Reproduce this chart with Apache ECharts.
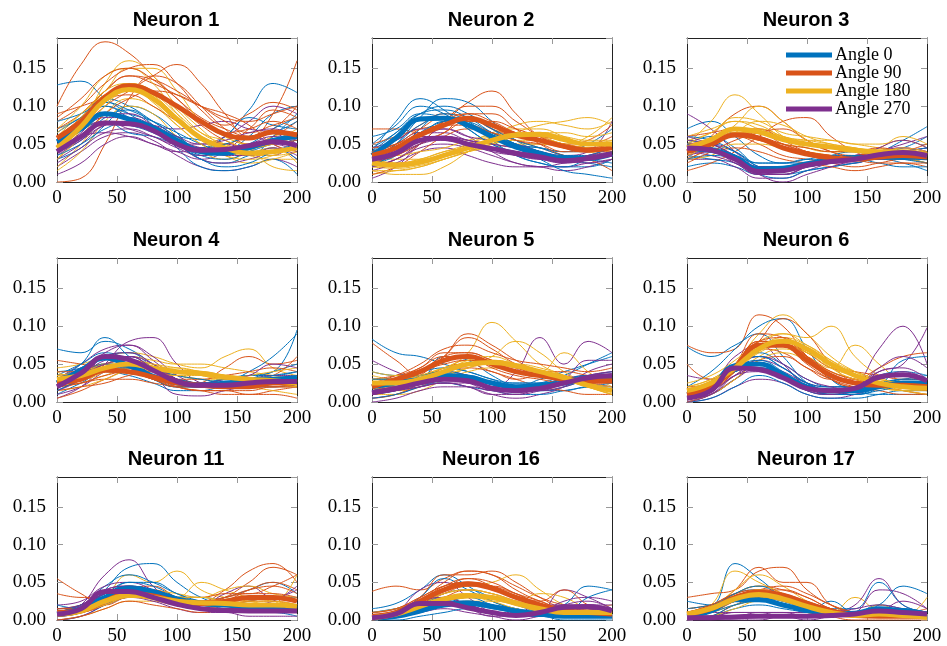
<!DOCTYPE html>
<html>
<head>
<meta charset="utf-8">
<title>Neuron tuning curves</title>
<script src="https://cdn.jsdelivr.net/npm/echarts@6/dist/echarts.min.js"></script>
<style>
  html, body { margin: 0; padding: 0; background: #fff; }
  #chart { width: 947px; height: 646px; }
</style>
</head>
<body>
<div id="chart"></div>
<script>
// time bins (x values) shared by every curve
const timePoints = [0, 20, 40, 60, 80, 100, 120, 140, 160, 180, 200];
const angleNames = ['Angle 0', 'Angle 90', 'Angle 180', 'Angle 270'];
const angleColors = ['#0072BD', '#D95319', '#EDB120', '#7E2F8E'];
const neuronTitles = ['Neuron 1', 'Neuron 2', 'Neuron 3', 'Neuron 4', 'Neuron 5', 'Neuron 6', 'Neuron 11', 'Neuron 16', 'Neuron 17'];

// ---- Neuron 1
const n1Mean = [
  [0.053,0.07,0.09,0.083,0.072,0.055,0.04,0.038,0.045,0.055,0.06],
  [0.058,0.08,0.112,0.127,0.118,0.1,0.08,0.063,0.058,0.066,0.062],
  [0.045,0.073,0.108,0.122,0.11,0.083,0.058,0.045,0.038,0.04,0.045],
  [0.04,0.06,0.078,0.077,0.068,0.05,0.042,0.043,0.048,0.053,0.048]
];
const n1a0 = [
  [0.128,0.133,0.11,0.09,0.07,0.05,0.035,0.04,0.06,0.09,0.1],
  [0.07,0.085,0.11,0.1,0.08,0.06,0.045,0.06,0.095,0.13,0.118],
  [0.04,0.055,0.085,0.095,0.075,0.045,0.02,0.015,0.02,0.03,0.01],
  [0.06,0.07,0.08,0.065,0.06,0.05,0.045,0.06,0.085,0.075,0.07],
  [0.03,0.045,0.075,0.1,0.09,0.065,0.03,0.025,0.035,0.045,0.03],
  [0.065,0.085,0.1,0.085,0.07,0.06,0.055,0.045,0.035,0.06,0.09],
  [0.055,0.075,0.1,0.09,0.08,0.065,0.05,0.04,0.05,0.07,0.085],
  [0.045,0.06,0.08,0.075,0.065,0.05,0.035,0.03,0.04,0.05,0.055],
  [0.08,0.09,0.105,0.095,0.08,0.06,0.045,0.05,0.06,0.065,0.08],
  [0.035,0.05,0.07,0.08,0.07,0.05,0.03,0.02,0.025,0.04,0.05]
];
const n1a90 = [
  [0.1,0.155,0.185,0.17,0.14,0.11,0.085,0.07,0.06,0.09,0.16],
  [0.0,0.005,0.05,0.11,0.14,0.13,0.1,0.07,0.05,0.06,0.08],
  [0.08,0.1,0.13,0.15,0.155,0.13,0.095,0.075,0.09,0.105,0.095],
  [0.06,0.085,0.12,0.14,0.13,0.115,0.1,0.09,0.075,0.05,0.04],
  [0.045,0.07,0.1,0.12,0.14,0.155,0.13,0.09,0.06,0.07,0.1],
  [0.09,0.1,0.11,0.115,0.1,0.08,0.06,0.05,0.07,0.095,0.085],
  [0.07,0.09,0.12,0.14,0.135,0.12,0.1,0.08,0.065,0.075,0.085],
  [0.05,0.075,0.105,0.125,0.12,0.1,0.075,0.055,0.045,0.05,0.055],
  [0.085,0.11,0.14,0.15,0.135,0.11,0.08,0.065,0.07,0.08,0.07],
  [0.04,0.06,0.09,0.11,0.12,0.115,0.1,0.085,0.08,0.09,0.1]
];
const n1a180 = [
  [0.03,0.07,0.13,0.16,0.14,0.1,0.07,0.045,0.035,0.03,0.03],
  [0.06,0.09,0.12,0.15,0.15,0.12,0.08,0.06,0.05,0.055,0.07],
  [0.02,0.05,0.09,0.11,0.1,0.075,0.05,0.035,0.025,0.03,0.04],
  [0.05,0.08,0.11,0.13,0.12,0.1,0.08,0.06,0.045,0.02,0.015],
  [0.015,0.04,0.08,0.1,0.09,0.06,0.04,0.03,0.04,0.06,0.065],
  [0.07,0.1,0.14,0.15,0.13,0.09,0.06,0.05,0.04,0.045,0.025],
  [0.04,0.07,0.11,0.13,0.12,0.095,0.065,0.05,0.04,0.04,0.045],
  [0.055,0.085,0.12,0.13,0.115,0.085,0.055,0.04,0.035,0.035,0.04],
  [0.03,0.06,0.1,0.12,0.115,0.09,0.065,0.055,0.045,0.05,0.06],
  [0.065,0.09,0.115,0.125,0.105,0.075,0.05,0.035,0.03,0.035,0.05]
];
const n1a270 = [
  [0.02,0.04,0.06,0.065,0.055,0.035,0.02,0.015,0.02,0.03,0.02],
  [0.06,0.08,0.09,0.085,0.075,0.07,0.075,0.08,0.07,0.065,0.05],
  [0.01,0.025,0.05,0.06,0.05,0.04,0.03,0.04,0.06,0.05,0.03],
  [0.05,0.07,0.08,0.07,0.06,0.05,0.05,0.06,0.08,0.1,0.09],
  [0.03,0.05,0.075,0.08,0.07,0.05,0.03,0.025,0.03,0.04,0.045],
  [0.045,0.06,0.065,0.06,0.05,0.04,0.04,0.05,0.04,0.035,0.06],
  [0.035,0.055,0.075,0.08,0.07,0.055,0.045,0.045,0.05,0.06,0.055],
  [0.025,0.045,0.065,0.07,0.06,0.045,0.035,0.04,0.045,0.05,0.04],
  [0.055,0.07,0.085,0.085,0.075,0.06,0.05,0.055,0.065,0.07,0.06],
  [0.04,0.065,0.09,0.09,0.075,0.055,0.045,0.035,0.035,0.045,0.035]
];

// ---- Neuron 2
const n2Mean = [
  [0.035,0.058,0.083,0.084,0.075,0.06,0.046,0.038,0.031,0.031,0.037],
  [0.035,0.045,0.062,0.075,0.084,0.075,0.062,0.055,0.047,0.042,0.045],
  [0.025,0.022,0.026,0.035,0.045,0.055,0.062,0.063,0.056,0.05,0.05],
  [0.03,0.038,0.055,0.058,0.05,0.044,0.038,0.033,0.028,0.031,0.037]
];
const n2a0 = [
  [0.04,0.08,0.11,0.095,0.07,0.05,0.035,0.025,0.02,0.02,0.03],
  [0.03,0.05,0.085,0.11,0.105,0.08,0.055,0.04,0.03,0.025,0.02],
  [0.06,0.07,0.09,0.085,0.075,0.065,0.05,0.045,0.04,0.05,0.07],
  [0.02,0.04,0.06,0.08,0.075,0.06,0.045,0.03,0.015,0.01,0.005],
  [0.045,0.065,0.09,0.1,0.09,0.07,0.05,0.045,0.04,0.04,0.05],
  [0.025,0.035,0.07,0.09,0.08,0.055,0.035,0.025,0.02,0.03,0.04],
  [0.04,0.065,0.09,0.095,0.085,0.065,0.05,0.04,0.035,0.035,0.04],
  [0.03,0.05,0.075,0.085,0.08,0.065,0.05,0.04,0.03,0.03,0.035],
  [0.05,0.075,0.1,0.09,0.07,0.05,0.04,0.035,0.03,0.035,0.045],
  [0.02,0.04,0.065,0.08,0.085,0.07,0.055,0.045,0.035,0.03,0.025]
];
const n2a90 = [
  [0.07,0.07,0.065,0.08,0.105,0.12,0.09,0.06,0.05,0.045,0.05],
  [0.02,0.03,0.05,0.08,0.1,0.1,0.08,0.06,0.045,0.04,0.04],
  [0.04,0.055,0.075,0.09,0.085,0.07,0.055,0.05,0.05,0.055,0.075],
  [0.01,0.02,0.04,0.06,0.07,0.065,0.055,0.045,0.035,0.03,0.015],
  [0.05,0.06,0.07,0.075,0.08,0.075,0.065,0.06,0.055,0.05,0.06],
  [0.03,0.04,0.055,0.065,0.09,0.09,0.07,0.05,0.035,0.03,0.04],
  [0.03,0.04,0.06,0.08,0.09,0.08,0.065,0.055,0.045,0.04,0.045],
  [0.04,0.05,0.07,0.085,0.085,0.07,0.06,0.055,0.05,0.045,0.05],
  [0.025,0.035,0.05,0.065,0.08,0.08,0.07,0.06,0.05,0.045,0.04],
  [0.045,0.05,0.065,0.075,0.075,0.065,0.055,0.05,0.04,0.04,0.05]
];
const n2a180 = [
  [0.015,0.01,0.01,0.02,0.04,0.06,0.075,0.08,0.075,0.07,0.08],
  [0.03,0.025,0.03,0.04,0.05,0.065,0.07,0.07,0.06,0.05,0.05],
  [0.01,0.015,0.02,0.03,0.04,0.05,0.055,0.055,0.05,0.04,0.035],
  [0.035,0.03,0.03,0.035,0.04,0.05,0.065,0.075,0.08,0.085,0.075],
  [0.02,0.018,0.022,0.03,0.04,0.045,0.05,0.05,0.045,0.04,0.045],
  [0.04,0.035,0.04,0.045,0.055,0.06,0.06,0.055,0.05,0.06,0.085],
  [0.02,0.02,0.025,0.035,0.05,0.06,0.065,0.065,0.06,0.055,0.055],
  [0.03,0.025,0.03,0.04,0.045,0.05,0.06,0.065,0.065,0.06,0.065],
  [0.015,0.015,0.02,0.03,0.04,0.055,0.065,0.06,0.05,0.045,0.04],
  [0.025,0.02,0.025,0.035,0.045,0.055,0.06,0.065,0.055,0.05,0.055]
];
const n2a270 = [
  [0.005,0.02,0.05,0.07,0.06,0.04,0.025,0.02,0.015,0.02,0.03],
  [0.04,0.05,0.065,0.065,0.055,0.05,0.045,0.04,0.035,0.04,0.08],
  [0.02,0.03,0.045,0.05,0.045,0.035,0.025,0.02,0.02,0.025,0.03],
  [0.035,0.045,0.06,0.055,0.05,0.045,0.04,0.035,0.03,0.03,0.035],
  [0.015,0.025,0.04,0.045,0.035,0.025,0.02,0.02,0.025,0.03,0.04],
  [0.045,0.055,0.07,0.07,0.06,0.055,0.05,0.04,0.03,0.035,0.045],
  [0.03,0.04,0.055,0.06,0.055,0.045,0.04,0.035,0.03,0.03,0.035],
  [0.025,0.035,0.05,0.055,0.05,0.045,0.035,0.03,0.025,0.03,0.04],
  [0.035,0.045,0.06,0.06,0.05,0.04,0.035,0.03,0.03,0.035,0.04],
  [0.02,0.03,0.05,0.06,0.055,0.05,0.045,0.04,0.03,0.025,0.03]
];

// ---- Neuron 3
const n3Mean = [
  [0.044,0.042,0.033,0.017,0.018,0.024,0.028,0.031,0.033,0.033,0.032],
  [0.04,0.05,0.062,0.058,0.045,0.037,0.032,0.03,0.033,0.035,0.033],
  [0.045,0.056,0.07,0.066,0.056,0.05,0.046,0.042,0.04,0.04,0.036],
  [0.045,0.042,0.03,0.014,0.015,0.022,0.027,0.03,0.036,0.039,0.035]
];
const n3a0 = [
  [0.07,0.08,0.06,0.035,0.025,0.025,0.03,0.035,0.04,0.055,0.073],
  [0.02,0.025,0.02,0.01,0.01,0.015,0.02,0.025,0.03,0.025,0.015],
  [0.05,0.06,0.045,0.02,0.015,0.025,0.035,0.04,0.04,0.045,0.06],
  [0.035,0.03,0.025,0.01,0.005,0.015,0.02,0.025,0.03,0.03,0.025],
  [0.055,0.05,0.04,0.025,0.025,0.03,0.03,0.03,0.035,0.04,0.045],
  [0.04,0.04,0.03,0.015,0.02,0.025,0.03,0.03,0.025,0.02,0.02],
  [0.045,0.045,0.035,0.02,0.02,0.025,0.03,0.03,0.035,0.035,0.03],
  [0.06,0.055,0.04,0.02,0.015,0.02,0.025,0.03,0.035,0.04,0.045],
  [0.03,0.035,0.03,0.015,0.015,0.02,0.025,0.03,0.035,0.03,0.025],
  [0.05,0.045,0.035,0.025,0.025,0.03,0.035,0.035,0.03,0.03,0.035]
];
const n3a90 = [
  [0.03,0.06,0.09,0.1,0.08,0.055,0.04,0.035,0.035,0.04,0.04],
  [0.015,0.025,0.04,0.06,0.08,0.085,0.06,0.04,0.03,0.03,0.035],
  [0.05,0.055,0.06,0.05,0.035,0.03,0.025,0.02,0.025,0.03,0.025],
  [0.035,0.05,0.07,0.07,0.055,0.04,0.035,0.03,0.035,0.04,0.05],
  [0.045,0.04,0.045,0.04,0.03,0.025,0.02,0.015,0.02,0.025,0.02],
  [0.06,0.065,0.07,0.06,0.05,0.045,0.04,0.04,0.045,0.04,0.035],
  [0.04,0.05,0.06,0.055,0.045,0.035,0.03,0.03,0.035,0.035,0.03],
  [0.03,0.045,0.065,0.065,0.05,0.04,0.035,0.03,0.03,0.03,0.03],
  [0.045,0.055,0.065,0.06,0.05,0.04,0.035,0.035,0.04,0.04,0.035],
  [0.025,0.04,0.055,0.065,0.07,0.055,0.04,0.03,0.025,0.025,0.025]
];
const n3a180 = [
  [0.05,0.08,0.115,0.09,0.06,0.045,0.04,0.04,0.04,0.04,0.035],
  [0.03,0.045,0.065,0.08,0.075,0.06,0.05,0.045,0.04,0.035,0.03],
  [0.06,0.07,0.08,0.07,0.06,0.055,0.055,0.05,0.05,0.055,0.045],
  [0.04,0.05,0.06,0.055,0.05,0.045,0.04,0.04,0.045,0.06,0.05],
  [0.055,0.065,0.085,0.08,0.065,0.06,0.055,0.05,0.045,0.04,0.04],
  [0.03,0.035,0.05,0.05,0.045,0.04,0.035,0.03,0.03,0.03,0.025],
  [0.045,0.055,0.07,0.07,0.06,0.05,0.045,0.04,0.04,0.04,0.035],
  [0.05,0.065,0.08,0.075,0.06,0.055,0.05,0.045,0.04,0.04,0.04],
  [0.04,0.05,0.065,0.065,0.055,0.05,0.045,0.04,0.035,0.035,0.03],
  [0.035,0.05,0.075,0.1,0.08,0.055,0.045,0.04,0.04,0.045,0.04]
];
const n3a270 = [
  [0.09,0.07,0.04,0.015,0.01,0.02,0.03,0.035,0.04,0.045,0.04],
  [0.03,0.03,0.02,0.005,0.005,0.015,0.025,0.03,0.035,0.04,0.035],
  [0.05,0.05,0.04,0.02,0.02,0.025,0.025,0.025,0.04,0.05,0.06],
  [0.04,0.035,0.025,0.01,0.01,0.02,0.03,0.035,0.04,0.035,0.03],
  [0.055,0.05,0.035,0.02,0.02,0.025,0.025,0.03,0.035,0.04,0.045],
  [0.035,0.04,0.03,0.01,0.0,0.01,0.02,0.03,0.045,0.055,0.045],
  [0.045,0.04,0.03,0.015,0.015,0.02,0.025,0.03,0.035,0.04,0.035],
  [0.05,0.045,0.035,0.02,0.02,0.025,0.03,0.03,0.035,0.035,0.03],
  [0.04,0.04,0.025,0.01,0.01,0.02,0.025,0.03,0.04,0.045,0.04],
  [0.06,0.05,0.035,0.015,0.015,0.025,0.03,0.03,0.03,0.035,0.03]
];

// ---- Neuron 4
const n4Mean = [
  [0.025,0.042,0.058,0.048,0.034,0.025,0.022,0.025,0.028,0.03,0.032],
  [0.025,0.03,0.042,0.04,0.033,0.025,0.022,0.02,0.02,0.025,0.025],
  [0.03,0.035,0.045,0.05,0.045,0.04,0.038,0.033,0.03,0.028,0.025],
  [0.02,0.038,0.06,0.056,0.042,0.027,0.022,0.022,0.025,0.027,0.027]
];
const n4a0 = [
  [0.07,0.065,0.08,0.07,0.05,0.03,0.025,0.03,0.035,0.04,0.095],
  [0.02,0.035,0.06,0.065,0.045,0.025,0.02,0.025,0.04,0.06,0.09],
  [0.01,0.025,0.04,0.035,0.025,0.015,0.015,0.02,0.02,0.025,0.02],
  [0.035,0.05,0.065,0.055,0.04,0.03,0.025,0.03,0.035,0.035,0.04],
  [0.03,0.04,0.05,0.045,0.03,0.02,0.02,0.02,0.03,0.04,0.05],
  [0.04,0.045,0.06,0.06,0.045,0.035,0.03,0.025,0.02,0.02,0.025],
  [0.025,0.04,0.06,0.055,0.035,0.025,0.025,0.03,0.03,0.03,0.03],
  [0.02,0.035,0.05,0.045,0.03,0.02,0.02,0.025,0.025,0.03,0.035],
  [0.03,0.05,0.085,0.06,0.035,0.03,0.025,0.025,0.03,0.035,0.04],
  [0.015,0.03,0.045,0.045,0.035,0.025,0.02,0.02,0.025,0.025,0.03]
];
const n4a90 = [
  [0.055,0.05,0.045,0.04,0.03,0.02,0.025,0.045,0.06,0.05,0.055],
  [0.005,0.015,0.03,0.04,0.035,0.02,0.015,0.01,0.01,0.015,0.02],
  [0.03,0.035,0.05,0.055,0.04,0.03,0.02,0.02,0.025,0.03,0.03],
  [0.02,0.025,0.03,0.03,0.025,0.02,0.015,0.015,0.01,0.01,0.005],
  [0.035,0.04,0.05,0.045,0.035,0.03,0.03,0.035,0.04,0.045,0.04],
  [0.015,0.02,0.025,0.035,0.04,0.03,0.02,0.025,0.03,0.035,0.06],
  [0.025,0.03,0.04,0.045,0.035,0.025,0.02,0.02,0.02,0.025,0.025],
  [0.03,0.035,0.045,0.045,0.035,0.03,0.025,0.025,0.025,0.03,0.03],
  [0.02,0.025,0.035,0.04,0.03,0.02,0.015,0.015,0.015,0.02,0.02],
  [0.04,0.04,0.045,0.04,0.03,0.02,0.02,0.02,0.02,0.02,0.025]
];
const n4a180 = [
  [0.045,0.05,0.06,0.065,0.06,0.05,0.045,0.06,0.07,0.045,0.035],
  [0.02,0.025,0.035,0.045,0.04,0.035,0.03,0.025,0.02,0.015,0.01],
  [0.03,0.04,0.05,0.06,0.055,0.05,0.05,0.045,0.04,0.035,0.03],
  [0.015,0.02,0.03,0.04,0.04,0.035,0.03,0.03,0.025,0.02,0.02],
  [0.035,0.04,0.05,0.05,0.045,0.045,0.04,0.035,0.03,0.03,0.035],
  [0.04,0.03,0.04,0.055,0.05,0.04,0.035,0.03,0.035,0.04,0.045],
  [0.03,0.035,0.045,0.05,0.045,0.04,0.04,0.035,0.03,0.03,0.025],
  [0.025,0.03,0.04,0.045,0.045,0.04,0.035,0.03,0.03,0.025,0.02],
  [0.035,0.04,0.05,0.055,0.05,0.045,0.04,0.035,0.03,0.03,0.03],
  [0.03,0.035,0.045,0.05,0.04,0.035,0.035,0.035,0.03,0.025,0.02]
];
const n4a270 = [
  [0.005,0.02,0.05,0.08,0.085,0.05,0.025,0.02,0.02,0.025,0.02],
  [0.03,0.05,0.07,0.075,0.055,0.03,0.02,0.02,0.025,0.03,0.03],
  [0.01,0.02,0.04,0.05,0.035,0.01,0.008,0.015,0.02,0.02,0.02],
  [0.025,0.04,0.065,0.075,0.06,0.035,0.025,0.025,0.03,0.035,0.035],
  [0.015,0.03,0.05,0.055,0.045,0.03,0.02,0.02,0.02,0.025,0.025],
  [0.03,0.045,0.06,0.06,0.045,0.03,0.025,0.03,0.035,0.05,0.045],
  [0.02,0.035,0.055,0.06,0.05,0.03,0.02,0.02,0.025,0.025,0.025],
  [0.015,0.03,0.06,0.065,0.05,0.03,0.02,0.02,0.02,0.025,0.03],
  [0.025,0.04,0.06,0.06,0.045,0.03,0.025,0.025,0.03,0.03,0.03],
  [0.02,0.035,0.05,0.055,0.04,0.025,0.02,0.02,0.025,0.03,0.025]
];

// ---- Neuron 5
const n5Mean = [
  [0.02,0.025,0.03,0.035,0.033,0.025,0.02,0.022,0.025,0.03,0.032],
  [0.02,0.03,0.04,0.055,0.06,0.05,0.04,0.035,0.03,0.028,0.028],
  [0.025,0.025,0.03,0.04,0.05,0.052,0.048,0.04,0.032,0.022,0.015],
  [0.012,0.018,0.025,0.03,0.028,0.018,0.015,0.018,0.025,0.032,0.035]
];
const n5a0 = [
  [0.083,0.065,0.06,0.05,0.04,0.03,0.02,0.025,0.035,0.05,0.065],
  [0.01,0.015,0.025,0.06,0.055,0.035,0.02,0.015,0.015,0.02,0.02],
  [0.03,0.03,0.035,0.04,0.035,0.025,0.02,0.03,0.04,0.05,0.06],
  [0.015,0.02,0.025,0.025,0.02,0.015,0.01,0.01,0.015,0.02,0.025],
  [0.04,0.035,0.04,0.045,0.04,0.03,0.025,0.025,0.03,0.035,0.04],
  [0.005,0.01,0.02,0.03,0.035,0.025,0.015,0.015,0.02,0.03,0.035],
  [0.02,0.025,0.03,0.035,0.03,0.025,0.02,0.02,0.025,0.03,0.03],
  [0.025,0.03,0.035,0.04,0.035,0.025,0.02,0.02,0.025,0.03,0.035],
  [0.015,0.02,0.03,0.035,0.03,0.02,0.015,0.02,0.025,0.03,0.03],
  [0.03,0.03,0.03,0.03,0.03,0.025,0.025,0.025,0.03,0.035,0.035]
];
const n5a90 = [
  [0.078,0.055,0.035,0.06,0.09,0.075,0.055,0.04,0.035,0.03,0.03],
  [0.01,0.02,0.035,0.06,0.085,0.07,0.05,0.04,0.03,0.025,0.025],
  [0.03,0.035,0.045,0.065,0.065,0.055,0.045,0.04,0.04,0.035,0.03],
  [0.005,0.01,0.025,0.045,0.05,0.04,0.03,0.02,0.015,0.01,0.01],
  [0.025,0.035,0.05,0.07,0.075,0.065,0.055,0.05,0.045,0.04,0.045],
  [0.02,0.025,0.03,0.04,0.045,0.04,0.03,0.035,0.03,0.02,0.015],
  [0.02,0.03,0.04,0.055,0.06,0.05,0.04,0.035,0.03,0.03,0.03],
  [0.015,0.025,0.04,0.06,0.065,0.055,0.045,0.035,0.03,0.025,0.025],
  [0.025,0.03,0.04,0.05,0.055,0.05,0.04,0.035,0.03,0.03,0.03],
  [0.02,0.03,0.045,0.06,0.06,0.045,0.035,0.03,0.025,0.025,0.03]
];
const n5a180 = [
  [0.02,0.015,0.02,0.04,0.065,0.105,0.08,0.05,0.035,0.02,0.01],
  [0.035,0.03,0.03,0.035,0.045,0.06,0.08,0.065,0.04,0.025,0.015],
  [0.01,0.01,0.015,0.03,0.045,0.05,0.045,0.04,0.065,0.04,0.02],
  [0.03,0.03,0.035,0.045,0.055,0.055,0.05,0.04,0.03,0.02,0.01],
  [0.015,0.02,0.025,0.03,0.04,0.045,0.04,0.035,0.03,0.025,0.02],
  [0.04,0.035,0.035,0.045,0.055,0.05,0.04,0.035,0.03,0.03,0.035],
  [0.025,0.025,0.03,0.04,0.05,0.055,0.05,0.04,0.03,0.02,0.015],
  [0.02,0.02,0.025,0.035,0.045,0.05,0.05,0.045,0.035,0.025,0.015],
  [0.03,0.03,0.035,0.045,0.05,0.05,0.045,0.04,0.035,0.025,0.02],
  [0.02,0.02,0.03,0.04,0.055,0.06,0.05,0.04,0.03,0.02,0.01]
];
const n5a270 = [
  [0.055,0.04,0.03,0.03,0.025,0.02,0.04,0.085,0.05,0.08,0.065],
  [0.005,0.01,0.02,0.025,0.02,0.01,0.005,0.01,0.02,0.04,0.05],
  [0.02,0.025,0.03,0.035,0.03,0.02,0.015,0.015,0.025,0.03,0.03],
  [0.0,0.005,0.015,0.02,0.02,0.015,0.01,0.015,0.025,0.035,0.04],
  [0.015,0.02,0.03,0.04,0.035,0.025,0.02,0.02,0.03,0.055,0.055],
  [0.01,0.015,0.02,0.025,0.02,0.01,0.01,0.02,0.03,0.025,0.02],
  [0.01,0.015,0.025,0.03,0.03,0.02,0.015,0.02,0.025,0.03,0.035],
  [0.015,0.02,0.025,0.03,0.025,0.015,0.015,0.02,0.03,0.035,0.035],
  [0.01,0.015,0.02,0.025,0.025,0.02,0.015,0.015,0.02,0.03,0.035],
  [0.02,0.02,0.03,0.035,0.03,0.02,0.015,0.02,0.025,0.035,0.04]
];

// ---- Neuron 6
const n6Mean = [
  [0.01,0.02,0.048,0.05,0.036,0.02,0.015,0.015,0.02,0.025,0.025],
  [0.01,0.02,0.045,0.075,0.075,0.055,0.035,0.025,0.022,0.022,0.02],
  [0.015,0.025,0.045,0.07,0.08,0.07,0.05,0.035,0.025,0.02,0.018],
  [0.005,0.015,0.045,0.043,0.032,0.018,0.015,0.018,0.033,0.036,0.028]
];
const n6a0 = [
  [0.073,0.06,0.075,0.09,0.06,0.025,0.01,0.01,0.02,0.03,0.03],
  [0.02,0.04,0.07,0.1,0.11,0.07,0.03,0.015,0.01,0.01,0.01],
  [0.005,0.01,0.03,0.05,0.035,0.015,0.01,0.01,0.02,0.055,0.06],
  [0.015,0.025,0.05,0.065,0.05,0.03,0.02,0.02,0.025,0.03,0.035],
  [0.0,0.005,0.02,0.035,0.025,0.01,0.005,0.005,0.01,0.015,0.015],
  [0.01,0.02,0.045,0.06,0.045,0.025,0.02,0.02,0.035,0.04,0.035],
  [0.01,0.02,0.045,0.055,0.04,0.02,0.015,0.015,0.02,0.025,0.025],
  [0.005,0.015,0.04,0.05,0.035,0.02,0.015,0.02,0.025,0.03,0.03],
  [0.015,0.025,0.05,0.06,0.045,0.025,0.015,0.015,0.02,0.02,0.02],
  [0.01,0.02,0.04,0.045,0.035,0.02,0.01,0.01,0.015,0.02,0.02]
];
const n6a90 = [
  [0.075,0.065,0.07,0.115,0.1,0.06,0.03,0.02,0.02,0.025,0.02],
  [0.05,0.03,0.04,0.08,0.11,0.09,0.05,0.025,0.02,0.02,0.025],
  [0.005,0.015,0.04,0.07,0.065,0.045,0.03,0.03,0.045,0.06,0.065],
  [0.01,0.02,0.05,0.09,0.085,0.06,0.04,0.03,0.02,0.015,0.01],
  [0.0,0.01,0.03,0.055,0.06,0.045,0.03,0.02,0.015,0.01,0.01],
  [0.02,0.025,0.05,0.08,0.08,0.065,0.045,0.04,0.035,0.03,0.03],
  [0.01,0.02,0.045,0.075,0.08,0.06,0.035,0.025,0.02,0.02,0.02],
  [0.015,0.025,0.05,0.08,0.075,0.05,0.03,0.02,0.02,0.025,0.025],
  [0.005,0.015,0.04,0.07,0.075,0.06,0.04,0.03,0.025,0.02,0.015],
  [0.01,0.02,0.045,0.08,0.085,0.06,0.035,0.025,0.02,0.02,0.02]
];
const n6a180 = [
  [0.01,0.02,0.05,0.09,0.115,0.09,0.06,0.04,0.025,0.015,0.01],
  [0.02,0.03,0.05,0.075,0.09,0.085,0.1,0.06,0.035,0.02,0.015],
  [0.005,0.015,0.035,0.06,0.07,0.06,0.045,0.075,0.05,0.025,0.015],
  [0.025,0.035,0.055,0.08,0.09,0.075,0.055,0.04,0.03,0.025,0.02],
  [0.0,0.01,0.03,0.055,0.065,0.055,0.04,0.03,0.02,0.015,0.01],
  [0.015,0.02,0.04,0.065,0.075,0.065,0.045,0.035,0.03,0.025,0.025],
  [0.015,0.025,0.045,0.07,0.08,0.07,0.05,0.035,0.025,0.02,0.02],
  [0.01,0.02,0.04,0.07,0.085,0.075,0.055,0.035,0.02,0.015,0.015],
  [0.02,0.03,0.05,0.07,0.075,0.065,0.05,0.04,0.03,0.025,0.02],
  [0.015,0.025,0.05,0.075,0.08,0.07,0.045,0.03,0.025,0.02,0.02]
];
const n6a270 = [
  [0.035,0.03,0.06,0.075,0.05,0.02,0.01,0.02,0.07,0.1,0.05],
  [0.0,0.01,0.03,0.045,0.035,0.015,0.01,0.015,0.04,0.05,0.098],
  [0.01,0.02,0.04,0.05,0.04,0.025,0.02,0.02,0.03,0.035,0.03],
  [0.0,0.005,0.02,0.03,0.025,0.01,0.005,0.01,0.02,0.025,0.02],
  [0.005,0.015,0.035,0.055,0.045,0.025,0.015,0.02,0.045,0.06,0.045],
  [0.01,0.02,0.045,0.06,0.05,0.03,0.02,0.015,0.02,0.02,0.015],
  [0.005,0.015,0.04,0.045,0.035,0.02,0.015,0.02,0.035,0.035,0.03],
  [0.005,0.01,0.035,0.045,0.035,0.02,0.015,0.02,0.03,0.04,0.03],
  [0.01,0.02,0.045,0.05,0.035,0.02,0.015,0.015,0.03,0.035,0.025],
  [0.0,0.01,0.035,0.04,0.03,0.015,0.01,0.02,0.04,0.045,0.03]
];

// ---- Neuron 11
const n11Mean = [
  [0.008,0.015,0.03,0.042,0.038,0.028,0.022,0.02,0.018,0.018,0.015],
  [0.01,0.012,0.025,0.035,0.032,0.025,0.022,0.025,0.03,0.03,0.025],
  [0.008,0.012,0.025,0.033,0.03,0.025,0.023,0.022,0.02,0.02,0.018],
  [0.008,0.015,0.038,0.038,0.03,0.021,0.015,0.013,0.012,0.012,0.012]
];
const n11a0 = [
  [0.005,0.01,0.04,0.07,0.075,0.05,0.03,0.02,0.015,0.02,0.02],
  [0.015,0.02,0.045,0.06,0.05,0.035,0.025,0.03,0.04,0.05,0.035],
  [0.0,0.005,0.02,0.035,0.03,0.02,0.015,0.01,0.01,0.01,0.005],
  [0.01,0.02,0.035,0.05,0.045,0.03,0.02,0.02,0.025,0.03,0.03],
  [0.02,0.015,0.02,0.03,0.03,0.025,0.02,0.015,0.01,0.015,0.02],
  [0.005,0.015,0.035,0.045,0.04,0.03,0.03,0.025,0.02,0.015,0.01],
  [0.008,0.015,0.03,0.045,0.04,0.03,0.022,0.02,0.018,0.018,0.015],
  [0.01,0.02,0.035,0.045,0.04,0.03,0.02,0.02,0.02,0.02,0.02],
  [0.005,0.01,0.025,0.04,0.035,0.025,0.02,0.02,0.015,0.015,0.015],
  [0.01,0.015,0.03,0.05,0.05,0.035,0.025,0.02,0.015,0.015,0.01]
];
const n11a90 = [
  [0.055,0.035,0.02,0.03,0.03,0.025,0.025,0.04,0.065,0.075,0.05],
  [0.005,0.01,0.02,0.04,0.045,0.03,0.02,0.03,0.05,0.07,0.06],
  [0.035,0.03,0.03,0.04,0.035,0.025,0.02,0.025,0.04,0.05,0.04],
  [0.0,0.005,0.015,0.025,0.02,0.015,0.01,0.015,0.02,0.02,0.015],
  [0.015,0.015,0.025,0.035,0.035,0.03,0.03,0.035,0.035,0.045,0.06],
  [0.005,0.01,0.025,0.04,0.04,0.03,0.025,0.02,0.025,0.03,0.025],
  [0.01,0.012,0.025,0.035,0.03,0.025,0.02,0.025,0.03,0.03,0.025],
  [0.01,0.015,0.025,0.035,0.035,0.025,0.025,0.03,0.035,0.035,0.03],
  [0.008,0.01,0.02,0.03,0.03,0.025,0.02,0.02,0.025,0.025,0.02],
  [0.015,0.015,0.03,0.04,0.035,0.03,0.025,0.03,0.04,0.045,0.035]
];
const n11a180 = [
  [0.005,0.01,0.03,0.06,0.05,0.065,0.04,0.03,0.025,0.02,0.02],
  [0.01,0.015,0.03,0.04,0.035,0.03,0.05,0.04,0.03,0.025,0.02],
  [0.0,0.005,0.015,0.025,0.025,0.02,0.02,0.02,0.015,0.015,0.01],
  [0.015,0.02,0.035,0.045,0.04,0.035,0.03,0.04,0.045,0.035,0.03],
  [0.005,0.01,0.02,0.03,0.03,0.025,0.02,0.015,0.015,0.02,0.06],
  [0.01,0.015,0.025,0.035,0.035,0.03,0.03,0.025,0.02,0.02,0.015],
  [0.008,0.012,0.025,0.035,0.03,0.025,0.025,0.025,0.02,0.02,0.018],
  [0.01,0.015,0.03,0.035,0.035,0.03,0.025,0.02,0.02,0.02,0.02],
  [0.005,0.01,0.02,0.03,0.03,0.025,0.02,0.02,0.02,0.018,0.015],
  [0.01,0.015,0.025,0.035,0.03,0.03,0.03,0.025,0.025,0.025,0.02]
];
const n11a270 = [
  [0.005,0.02,0.06,0.08,0.045,0.02,0.015,0.015,0.015,0.015,0.015],
  [0.02,0.025,0.045,0.05,0.04,0.025,0.02,0.035,0.045,0.03,0.04],
  [0.0,0.005,0.02,0.03,0.025,0.015,0.01,0.01,0.005,0.005,0.005],
  [0.01,0.02,0.04,0.045,0.035,0.025,0.015,0.01,0.01,0.015,0.02],
  [0.005,0.01,0.03,0.035,0.03,0.02,0.015,0.015,0.02,0.025,0.045],
  [0.015,0.02,0.035,0.04,0.035,0.025,0.02,0.02,0.015,0.01,0.01],
  [0.008,0.015,0.035,0.04,0.03,0.02,0.015,0.012,0.012,0.012,0.012],
  [0.01,0.02,0.04,0.045,0.035,0.025,0.015,0.015,0.015,0.015,0.012],
  [0.005,0.012,0.03,0.035,0.03,0.02,0.015,0.012,0.01,0.01,0.01],
  [0.01,0.015,0.035,0.04,0.03,0.02,0.015,0.015,0.012,0.012,0.015]
];

// ---- Neuron 16
const n16Mean = [
  [0.003,0.005,0.012,0.02,0.022,0.018,0.012,0.008,0.005,0.005,0.005],
  [0.005,0.01,0.025,0.04,0.048,0.042,0.03,0.02,0.012,0.01,0.008],
  [0.003,0.008,0.018,0.028,0.032,0.03,0.022,0.015,0.01,0.01,0.01],
  [0.003,0.008,0.022,0.022,0.016,0.01,0.006,0.01,0.017,0.018,0.012]
];
const n16a0 = [
  [0.015,0.022,0.04,0.06,0.045,0.025,0.015,0.01,0.02,0.045,0.04],
  [0.0,0.005,0.02,0.035,0.04,0.03,0.02,0.01,0.005,0.005,0.005],
  [0.005,0.01,0.03,0.055,0.04,0.025,0.015,0.01,0.01,0.03,0.04],
  [0.0,0.0,0.005,0.01,0.015,0.01,0.005,0.005,0.0,0.0,0.0],
  [0.01,0.015,0.02,0.025,0.025,0.02,0.015,0.01,0.005,0.005,0.01],
  [0.0,0.005,0.01,0.02,0.03,0.03,0.02,0.015,0.01,0.005,0.005],
  [0.003,0.005,0.012,0.02,0.025,0.02,0.012,0.008,0.005,0.005,0.005],
  [0.005,0.008,0.015,0.025,0.025,0.02,0.012,0.01,0.008,0.008,0.008],
  [0.0,0.003,0.01,0.018,0.02,0.015,0.01,0.005,0.005,0.005,0.005],
  [0.005,0.01,0.02,0.03,0.03,0.02,0.01,0.005,0.005,0.01,0.01]
];
const n16a90 = [
  [0.038,0.045,0.04,0.055,0.065,0.06,0.045,0.03,0.02,0.015,0.01],
  [0.005,0.01,0.03,0.06,0.06,0.065,0.05,0.03,0.015,0.01,0.01],
  [0.0,0.005,0.02,0.04,0.055,0.05,0.035,0.025,0.04,0.02,0.01],
  [0.01,0.015,0.03,0.045,0.05,0.045,0.035,0.025,0.015,0.015,0.015],
  [0.0,0.005,0.015,0.03,0.04,0.035,0.025,0.015,0.01,0.005,0.005],
  [0.005,0.01,0.025,0.05,0.065,0.06,0.04,0.025,0.015,0.01,0.005],
  [0.005,0.01,0.025,0.04,0.05,0.045,0.03,0.02,0.012,0.01,0.008],
  [0.01,0.015,0.03,0.045,0.05,0.04,0.03,0.02,0.015,0.01,0.01],
  [0.005,0.01,0.02,0.035,0.045,0.045,0.035,0.02,0.01,0.008,0.005],
  [0.0,0.005,0.025,0.045,0.055,0.045,0.03,0.02,0.015,0.01,0.005]
];
const n16a180 = [
  [0.005,0.01,0.025,0.04,0.045,0.05,0.06,0.04,0.02,0.01,0.01],
  [0.0,0.005,0.015,0.03,0.035,0.03,0.025,0.035,0.03,0.015,0.01],
  [0.005,0.01,0.02,0.025,0.03,0.03,0.02,0.015,0.01,0.015,0.02],
  [0.0,0.005,0.01,0.02,0.025,0.025,0.02,0.01,0.005,0.005,0.005],
  [0.01,0.015,0.025,0.035,0.04,0.035,0.025,0.02,0.015,0.015,0.015],
  [0.0,0.005,0.015,0.025,0.03,0.025,0.015,0.01,0.01,0.01,0.01],
  [0.003,0.008,0.018,0.028,0.033,0.03,0.022,0.015,0.01,0.01,0.01],
  [0.005,0.01,0.02,0.03,0.035,0.032,0.025,0.018,0.012,0.01,0.01],
  [0.0,0.005,0.015,0.025,0.03,0.028,0.02,0.012,0.008,0.008,0.008],
  [0.005,0.01,0.02,0.035,0.04,0.035,0.025,0.015,0.01,0.01,0.012]
];
const n16a270 = [
  [0.0,0.01,0.04,0.05,0.03,0.01,0.005,0.01,0.04,0.03,0.015],
  [0.005,0.01,0.02,0.025,0.02,0.01,0.005,0.01,0.025,0.03,0.025],
  [0.0,0.005,0.01,0.015,0.01,0.005,0.0,0.005,0.01,0.01,0.005],
  [0.01,0.015,0.025,0.03,0.02,0.01,0.01,0.02,0.02,0.015,0.01],
  [0.0,0.005,0.015,0.02,0.015,0.005,0.005,0.01,0.015,0.02,0.02],
  [0.005,0.01,0.02,0.025,0.02,0.01,0.005,0.005,0.01,0.015,0.015],
  [0.003,0.008,0.02,0.025,0.02,0.01,0.006,0.01,0.018,0.018,0.012],
  [0.005,0.01,0.022,0.025,0.018,0.01,0.008,0.012,0.02,0.02,0.015],
  [0.0,0.005,0.015,0.02,0.015,0.008,0.005,0.008,0.015,0.015,0.01],
  [0.005,0.01,0.025,0.03,0.02,0.01,0.005,0.01,0.02,0.025,0.015]
];

// ---- Neuron 17
const n17Mean = [
  [0.005,0.012,0.027,0.027,0.02,0.013,0.008,0.009,0.015,0.012,0.008],
  [0.008,0.015,0.03,0.037,0.033,0.022,0.012,0.006,0.005,0.005,0.005],
  [0.008,0.015,0.028,0.034,0.028,0.018,0.01,0.006,0.008,0.006,0.004],
  [0.003,0.003,0.004,0.005,0.005,0.005,0.006,0.008,0.012,0.01,0.008]
];
const n17a0 = [
  [0.025,0.02,0.075,0.055,0.03,0.015,0.01,0.01,0.02,0.015,0.01],
  [0.005,0.015,0.035,0.04,0.03,0.02,0.015,0.015,0.05,0.02,0.01],
  [0.0,0.005,0.015,0.02,0.015,0.01,0.005,0.01,0.02,0.045,0.035],
  [0.01,0.015,0.03,0.035,0.03,0.02,0.01,0.005,0.005,0.005,0.005],
  [0.0,0.005,0.02,0.025,0.02,0.01,0.025,0.01,0.01,0.01,0.005],
  [0.015,0.02,0.03,0.03,0.025,0.015,0.01,0.01,0.015,0.015,0.01],
  [0.005,0.012,0.025,0.03,0.022,0.013,0.008,0.01,0.015,0.012,0.008],
  [0.008,0.015,0.03,0.03,0.025,0.015,0.01,0.01,0.015,0.015,0.01],
  [0.003,0.01,0.02,0.025,0.02,0.012,0.008,0.008,0.012,0.01,0.005],
  [0.005,0.015,0.035,0.045,0.03,0.015,0.01,0.01,0.015,0.01,0.008]
];
const n17a90 = [
  [0.03,0.035,0.04,0.065,0.07,0.04,0.02,0.01,0.005,0.005,0.005],
  [0.005,0.015,0.04,0.07,0.05,0.05,0.02,0.01,0.005,0.01,0.01],
  [0.01,0.02,0.035,0.045,0.04,0.03,0.015,0.01,0.01,0.01,0.015],
  [0.0,0.005,0.02,0.03,0.025,0.015,0.005,0.0,0.0,0.0,0.0],
  [0.015,0.02,0.03,0.04,0.045,0.035,0.02,0.01,0.005,0.005,0.005],
  [0.005,0.01,0.025,0.035,0.03,0.02,0.01,0.005,0.005,0.005,0.005],
  [0.008,0.015,0.03,0.038,0.033,0.022,0.012,0.006,0.005,0.005,0.005],
  [0.01,0.02,0.035,0.04,0.035,0.025,0.015,0.008,0.005,0.005,0.005],
  [0.005,0.012,0.025,0.035,0.03,0.02,0.01,0.005,0.005,0.005,0.003],
  [0.01,0.015,0.03,0.04,0.04,0.03,0.015,0.008,0.005,0.005,0.005]
];
const n17a180 = [
  [0.01,0.02,0.065,0.05,0.035,0.02,0.01,0.03,0.01,0.005,0.005],
  [0.005,0.015,0.04,0.06,0.045,0.025,0.01,0.005,0.02,0.01,0.005],
  [0.015,0.02,0.03,0.035,0.03,0.02,0.01,0.005,0.005,0.005,0.03],
  [0.0,0.005,0.015,0.025,0.02,0.01,0.005,0.005,0.005,0.005,0.0],
  [0.01,0.015,0.035,0.045,0.035,0.02,0.01,0.01,0.015,0.01,0.005],
  [0.005,0.01,0.02,0.025,0.02,0.015,0.01,0.005,0.005,0.005,0.005],
  [0.008,0.015,0.028,0.035,0.028,0.018,0.01,0.006,0.008,0.006,0.004],
  [0.01,0.018,0.032,0.038,0.03,0.02,0.012,0.008,0.008,0.006,0.005],
  [0.005,0.012,0.025,0.03,0.025,0.015,0.008,0.005,0.006,0.005,0.003],
  [0.008,0.015,0.03,0.04,0.032,0.02,0.01,0.006,0.01,0.008,0.005]
];
const n17a270 = [
  [0.0,0.005,0.01,0.01,0.01,0.005,0.01,0.02,0.055,0.02,0.01],
  [0.005,0.005,0.005,0.01,0.01,0.01,0.005,0.01,0.04,0.035,0.015],
  [0.0,0.0,0.0,0.0,0.005,0.005,0.005,0.005,0.01,0.01,0.005],
  [0.01,0.01,0.01,0.01,0.01,0.01,0.01,0.015,0.02,0.015,0.01],
  [0.0,0.005,0.005,0.005,0.005,0.0,0.005,0.01,0.015,0.01,0.01],
  [0.005,0.005,0.01,0.01,0.005,0.005,0.005,0.005,0.01,0.025,0.015],
  [0.003,0.003,0.004,0.005,0.005,0.005,0.006,0.008,0.012,0.01,0.008],
  [0.0,0.002,0.003,0.004,0.004,0.004,0.005,0.008,0.015,0.012,0.008],
  [0.005,0.005,0.005,0.006,0.006,0.006,0.008,0.01,0.012,0.01,0.008],
  [0.002,0.003,0.004,0.005,0.005,0.005,0.005,0.007,0.01,0.008,0.006]
];

const neuronMeans = [n1Mean, n2Mean, n3Mean, n4Mean, n5Mean, n6Mean, n11Mean, n16Mean, n17Mean];
const neuronTrials = [
  [n1a0, n1a90, n1a180, n1a270],
  [n2a0, n2a90, n2a180, n2a270],
  [n3a0, n3a90, n3a180, n3a270],
  [n4a0, n4a90, n4a180, n4a270],
  [n5a0, n5a90, n5a180, n5a270],
  [n6a0, n6a90, n6a180, n6a270],
  [n11a0, n11a90, n11a180, n11a270],
  [n16a0, n16a90, n16a180, n16a270],
  [n17a0, n17a90, n17a180, n17a270]
];

// layout of the 3x3 panels (pixels)
const colLeft = [57, 372, 687];
const rowTop = [38, 258, 477];
const plotW = 240, plotH = 144;
const serif = "'Liberation Serif', 'Times New Roman', serif";

function toPoints(vals) {
  return vals.map((v, i) => [timePoints[i], v]);
}

const grids = [], xAxes = [], yAxes = [], titles = [], series = [];

neuronTitles.forEach((name, k) => {
  const r = Math.floor(k / 3), c = k % 3;
  grids.push({ left: colLeft[c], top: rowTop[r], width: plotW, height: plotH });
  titles.push({
    text: name, left: colLeft[c] + plotW / 2 - 1, top: rowTop[r] - 28, textAlign: 'center', padding: 0,
    textStyle: { fontFamily: "'Liberation Sans', Arial, sans-serif", fontWeight: 'bold', fontSize: 20, color: '#000' }
  });
  const tick = { show: true, inside: true, length: 6, lineStyle: { color: '#999', width: 1 } };
  const line = { show: true, onZero: false, lineStyle: { color: '#222', width: 1 } };
  // bottom + top x axes
  xAxes.push({
    type: 'value', gridIndex: k, min: 0, max: 200, interval: 50, position: 'bottom',
    axisLine: line, axisTick: tick, splitLine: { show: false },
    axisLabel: { margin: 7, fontFamily: serif, fontSize: 19, color: '#000' }
  });
  xAxes.push({
    type: 'value', gridIndex: k, min: 0, max: 200, interval: 50, position: 'top',
    axisLine: line, axisTick: tick, splitLine: { show: false }, axisLabel: { show: false }
  });
  // left + right y axes
  yAxes.push({
    type: 'value', gridIndex: k, min: 0, max: 0.19, interval: 0.05, position: 'left',
    axisLine: line, axisTick: tick, splitLine: { show: false },
    axisLabel: { margin: 11, fontFamily: serif, fontSize: 19, color: '#000', showMaxLabel: false,
      formatter: v => v.toFixed(2) }
  });
  yAxes.push({
    type: 'value', gridIndex: k, min: 0, max: 0.19, interval: 0.05, position: 'right',
    axisLine: line, axisTick: tick, splitLine: { show: false }, axisLabel: { show: false }
  });

  const xi = k * 2, yi = k * 2;
  const trials = neuronTrials[k];
  // thin single-trial curves, interleaved by angle
  for (let t = 0; t < trials[0].length; t++) {
    for (let a = 0; a < 4; a++) {
      series.push({
        type: 'line', name: 'trial', xAxisIndex: xi, yAxisIndex: yi,
        data: toPoints(trials[a][t]), smooth: 0.45, showSymbol: false, silent: true,
        lineStyle: { color: angleColors[a], width: 1 }, itemStyle: { color: angleColors[a] }
      });
    }
  }
  // thick mean curves
  neuronMeans[k].forEach((vals, a) => {
    series.push({
      type: 'line', name: angleNames[a], xAxisIndex: xi, yAxisIndex: yi,
      data: toPoints(vals), smooth: 0.45, showSymbol: false, silent: true,
      lineStyle: { color: angleColors[a], width: 5 }, itemStyle: { color: angleColors[a] }
    });
  });
});

const chart = echarts.init(document.getElementById('chart'));
chart.setOption({
  animation: false,
  backgroundColor: '#fff',
  title: titles,
  grid: grids,
  xAxis: xAxes,
  yAxis: yAxes,
  legend: {
    data: angleNames, orient: 'vertical', left: 786, top: 46, padding: 0,
    icon: 'rect', itemWidth: 46, itemHeight: 5, itemGap: 0, selectedMode: false,
    textStyle: { fontFamily: serif, fontSize: 18, color: '#000', padding: [0, 0, 0, -2] }
  },
  series: series
});
</script>
</body>
</html>
